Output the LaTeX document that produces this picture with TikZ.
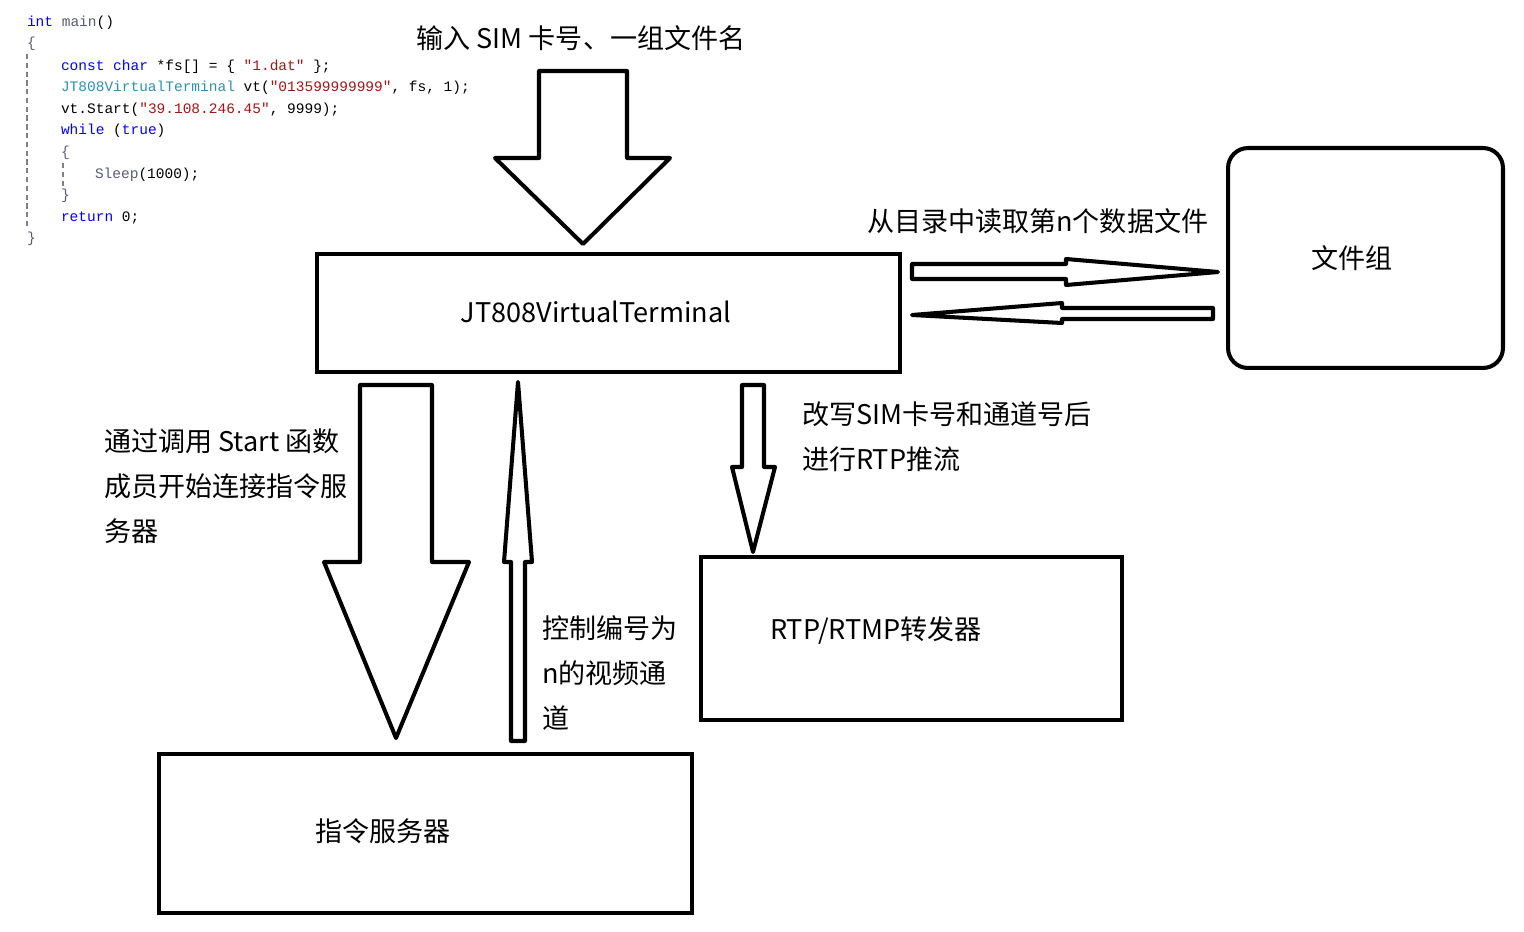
\documentclass[tikz,border=0pt]{standalone}
\usepackage{fontspec}
\setmainfont{Noto Sans CJK SC}
\newfontfamily\codefont{Liberation Mono}
\definecolor{kwblue}{RGB}{0,0,255}
\definecolor{typeteal}{RGB}{43,145,175}
\definecolor{strred}{RGB}{163,21,21}
\definecolor{fngray}{RGB}{90,90,120}

\begin{document}
\begin{tikzpicture}[x=0.02cm, y=-0.02cm, line width=2.3pt]
		\tikzstyle{every node}=[inner sep=0pt, font=\fontsize{15.4}{25.6}\selectfont]
		\tikzstyle{box}=[draw, line width=2.3pt]
		\tikzstyle{fatarrow}=[draw, line join=round, fill=white]
		\tikzstyle{code}=[anchor=mid west, font=\codefont\fontsize{8.25}{10}\selectfont]
		\useasboundingbox (0,0) rectangle (1524,932);

		% code snippet
		\node[code] (c1) at (25,22) {\textcolor{kwblue}{int} \textcolor{fngray}{main}()};
		\node[code] (c2) at (25,43) {\textcolor{fngray}{\{}};
		\node[code] (c3) at (59,66) {\textcolor{kwblue}{const char} *fs[] = \{ \textcolor{strred}{"1.dat"} \};};
		\node[code] (c4) at (59,87) {\textcolor{typeteal}{JT808VirtualTerminal} vt(\textcolor{strred}{"013599999999"}, fs, 1);};
		\node[code] (c5) at (59,109) {vt.Start(\textcolor{strred}{"39.108.246.45"}, 9999);};
		\node[code] (c6) at (59,130) {\textcolor{kwblue}{while} (\textcolor{kwblue}{true})};
		\node[code] (c7) at (59,152) {\textcolor{fngray}{\{}};
		\node[code] (c8) at (93,174) {\textcolor{fngray}{Sleep}(1000);};
		\node[code] (c9) at (59,195) {\textcolor{fngray}{\}}};
		\node[code] (c10) at (59,217) {\textcolor{kwblue}{return} 0;};
		\node[code] (c11) at (25,238) {\textcolor{fngray}{\}}};
		\draw[gray, line width=0.6pt, dash pattern=on 3pt off 2pt] (27,54) -- (27,229);
		\draw[gray, line width=0.6pt, dash pattern=on 3pt off 2pt] (63,163) -- (63,186);

		% boxes
		\node[box, minimum width=11.66cm, minimum height=2.36cm] (vt) at (608.5,313) {};
		\node[box, rounded corners=0.4cm, minimum width=5.5cm, minimum height=4.4cm] (files) at (1365.5,258) {};
		\node[box, minimum width=8.42cm, minimum height=3.26cm] (relay) at (911.5,638.5) {};
		\node[box, minimum width=10.66cm, minimum height=3.18cm] (server) at (425.5,833.5) {};
		\node (vtText) at (596,312) {JT808VirtualTerminal};
		\node (filesText) at (1352,258) {文件组};
		\node (relayText) at (876,631) {RTP/RTMP转发器};
		\node (serverText) at (383,831) {指令服务器};

		% block arrows
		\draw[fatarrow] (539,71) -- (627,71) -- (627,158) -- (670,158) -- (583,244) -- (495,158) -- (539,158) -- cycle;
		\draw[fatarrow] (912,264) -- (1066,264) -- (1066,259) -- (1218,272) -- (1066,285) -- (1066,279) -- (912,279) -- cycle;
		\draw[fatarrow] (1213,308) -- (1062,308) -- (1062,303) -- (912,315) -- (1062,323) -- (1062,319) -- (1213,319) -- cycle;
		\draw[fatarrow] (360,385) -- (432,385) -- (432,562) -- (469,562) -- (396,738) -- (324,562) -- (360,562) -- cycle;
		\draw[fatarrow] (511,741) -- (525,741) -- (525,562) -- (532,562) -- (518,382) -- (504,562) -- (511,562) -- cycle;
		\draw[fatarrow] (742,385) -- (764,385) -- (764,467) -- (775,467) -- (753,552) -- (732,467) -- (742,467) -- cycle;

		% labels
		\node (inLabel) at (581,38) {输入 SIM 卡号、一组文件名};
		\node[anchor=west] (readLabel) at (865,221) {从目录中读取第n个数据文件};
		\node[anchor=west, align=left] (startLabel) at (102,486) {通过调用 Start 函数\\成员开始连接指令服\\务器};
		\node[anchor=west, align=left] (chanLabel) at (540,673) {控制编号为\\n的视频通\\道};
		\node[anchor=west, align=left] (pushLabel) at (800,437) {改写SIM卡号和通道号后\\进行RTP推流};
	\end{tikzpicture}
\end{document}
